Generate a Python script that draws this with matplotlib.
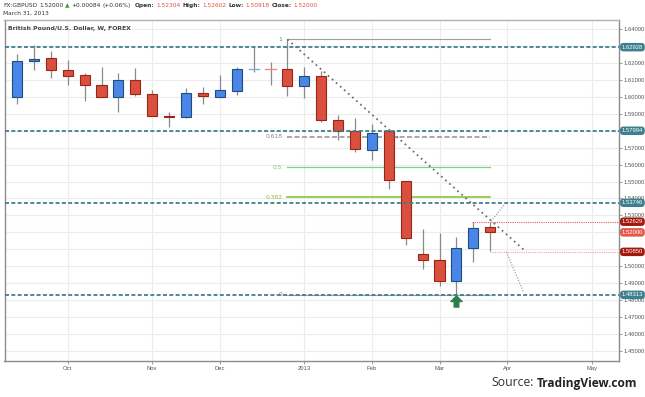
import matplotlib
matplotlib.use('Agg')
import matplotlib.pyplot as plt
from matplotlib.path import Path
from matplotlib.transforms import offset_copy, blended_transform_factory

# ---------------- data ----------------
opens = [1.6001, 1.6211, 1.6227, 1.6156, 1.6129, 1.6068, 1.6001, 1.6097, 1.6015, 1.5889,
         1.5879, 1.6021, 1.6001, 1.6036, 1.6161, 1.6163, 1.6162, 1.6064, 1.6121, 1.5861,
         1.5796, 1.5686, 1.5796, 1.5503, 1.5074, 1.5037, 1.4911, 1.5110, 1.52304]
highs = [1.6253, 1.6306, 1.6270, 1.6215, 1.6142, 1.6176, 1.6140, 1.6168, 1.6038, 1.5910,
         1.6050, 1.6058, 1.6129, 1.6176, 1.6300, 1.6204, 1.6339, 1.6176, 1.6152, 1.5891,
         1.5875, 1.5840, 1.5810, 1.5505, 1.5218, 1.5195, 1.5171, 1.5263, 1.52602]
lows = [1.5956, 1.6158, 1.6109, 1.6067, 1.5975, 1.5997, 1.5912, 1.6005, 1.5885, 1.5824,
        1.5877, 1.5959, 1.5998, 1.6012, 1.6148, 1.6067, 1.6005, 1.5993, 1.5853, 1.5745,
        1.5676, 1.5627, 1.5456, 1.5126, 1.4986, 1.4884, 1.4831, 1.5027, 1.50918]
closes = [1.6209, 1.6225, 1.6156, 1.6125, 1.6068, 1.6001, 1.6097, 1.6017, 1.5889, 1.5879,
          1.6021, 1.6005, 1.6038, 1.6162, 1.6163, 1.6161, 1.6064, 1.6121, 1.5861, 1.5798,
          1.5692, 1.5786, 1.5509, 1.5169, 1.5035, 1.4911, 1.5108, 1.5224, 1.52000]

month_pos = [3, 8, 12, 17, 21, 25, 29, 34]
month_labels = ['Oct', 'Nov', 'Dec', '2013', 'Feb', 'Mar', 'Apr', 'May']

price_grid = [1.45, 1.46, 1.47, 1.48, 1.49, 1.50, 1.51, 1.52, 1.53, 1.54, 1.55,
              1.56, 1.57, 1.58, 1.59, 1.60, 1.61, 1.62, 1.63, 1.64]
price_ticks = [1.45, 1.46, 1.47, 1.48, 1.49, 1.50, 1.53, 1.54, 1.55,
               1.56, 1.57, 1.59, 1.60, 1.61, 1.62, 1.64]

levels = [1.62928, 1.57994, 1.53746, 1.48313]

fib_high = 1.6339
fib_low = 1.48313
fib_ratios = [1, 0.618, 0.5, 0.382, 0]
fib_labels = ['1', '0.618', '0.5', '0.382', '0']
fib_span = [16, 28]

trend_x = [16, 30]
trend_y = [1.6339, 1.5096]
proj1_x = [28.05, 28.95]
proj1_y = [1.5265, 1.5377]
proj2_x = [28.95, 29.95]
proj2_y = [1.5085, 1.4852]

hi_line = 1.52629
hi_line_start = 27
lo_line = 1.50850
lo_line_start = 28
last_close = 1.52000
arrow_bar = 26

# ---------------- figure ----------------
W, H = 645, 397
fig = plt.figure(figsize=(W / 100, H / 100), dpi=100)
fig.patch.set_facecolor('white')
ax = fig.add_axes([4.5 / W, 1 - 361 / H, (619 - 4.5) / W, (361 - 19.5) / H])
ax.set_xlim(-0.74, 35.62)
ax.set_ylim(1.4441, 1.6456)

for s in ax.spines.values():
    s.set_color('#8c8c8c')
    s.set_linewidth(1.0)
ax.spines['top'].set_color('#b0b0b0')

# grid
for p in price_grid:
    ax.axhline(p, color='#ececec', lw=0.8, zorder=0)
for m in month_pos:
    ax.axvline(m, color='#ececec', lw=0.8, zorder=0)

# ticks
ax.yaxis.tick_right()
ax.set_yticks(price_ticks)
ax.set_yticklabels(['%.5f' % p for p in price_ticks])
ax.set_xticks(month_pos)
ax.set_xticklabels(month_labels)
ax.tick_params(axis='both', length=2, width=0.6, color='#8c8c8c',
               labelsize=4.2, labelcolor='#555555', pad=1.5)
for lab in ax.get_xticklabels() + ax.get_yticklabels():
    lab.set_family('Liberation Sans')

# candles
red, red_edge = '#d9503f', '#9a2418'
blue, blue_edge = '#4a86e8', '#1d4f7c'
for i, (o, h, l, c) in enumerate(zip(opens, highs, lows, closes)):
    ax.plot([i, i], [l, h], color='#8a8a8a', lw=0.9, zorder=2, solid_capstyle='butt')
    up = c >= o
    fc = blue if up else red
    ec = blue_edge if up else red_edge
    if abs(c - o) < 0.0006:
        ax.plot([i - 0.3, i + 0.3], [o, o], color='#7fa9ef' if up else '#ec8a7f', lw=1.0, zorder=3)
    else:
        ax.bar(i, abs(c - o), bottom=min(o, c), width=0.6, color=fc,
               edgecolor=ec, linewidth=0.8, zorder=3)

# teal levels
teal = '#3d7f8e'
ytrans = blended_transform_factory(ax.transAxes, ax.transData)
for lv in levels:
    ax.axhline(lv, color=teal, lw=1.3, linestyle=(0, (2.2, 1.3)), zorder=4)

# fib
fib_colors = ['#a0a0a0', '#9a9a9a', '#7ed47e', '#8cc43a', '#a0a0a0']
fib_text_colors = ['#777777', '#888888', '#6cc86c', '#8ab832', '#777777']
fib_styles = ['-', (0, (3, 1.5)), '-', '-', '-']
fib_widths = [0.8, 1.2, 0.9, 1.2, 0.8]
for r, lab, col, tcol, ls, lw in zip(fib_ratios, fib_labels, fib_colors, fib_text_colors, fib_styles, fib_widths):
    lv = fib_low + r * (fib_high - fib_low)
    ax.plot(fib_span, [lv, lv], color=col, lw=lw, linestyle=ls, zorder=2.5)
    ax.text(fib_span[0] - 0.3, lv, lab, ha='right', va='center', fontsize=4.3,
            color=tcol, family='DejaVu Sans', zorder=5)

# trend line & projections
ax.plot(trend_x, trend_y, color='#707070', lw=1.3, linestyle=(0, (1, 2)), zorder=5)
ax.plot(proj1_x, proj1_y, color='#909090', lw=0.8, linestyle=(0, (1, 1.5)), zorder=5)
ax.plot(proj2_x, proj2_y, color='#909090', lw=0.8, linestyle=(0, (1, 1.5)), zorder=5)

# red dotted lines
ax.plot([hi_line_start - 0.1, 40], [hi_line, hi_line], color='#e06060', lw=0.8,
        linestyle=(0, (1, 1)), zorder=4, clip_on=True)
ax.plot([lo_line_start, 40], [lo_line, lo_line], color='#f2a3a3', lw=0.8,
        linestyle=(0, (1, 1)), zorder=4, clip_on=True)

# green arrow
arrow = Path([(0, 1), (-1, 0), (-0.42, 0), (-0.42, -1), (0.42, -1), (0.42, 0), (1, 0), (0, 1)],
             [Path.MOVETO] + [Path.LINETO] * 6 + [Path.CLOSEPOLY])
tr = offset_copy(ax.transData, fig=fig, x=0, y=-6, units='dots')
ax.plot([arrow_bar], [lows[arrow_bar]], marker=arrow, markersize=8, color='#2e7d4f',
        transform=tr, zorder=6, clip_on=False)

# right price boxes
def price_box(val, bg):
    ax.text(1.0045, val, '%.5f' % val, transform=ytrans, ha='left', va='center',
            fontsize=4.2, color='white', family='Liberation Sans', zorder=10, clip_on=False,
            bbox=dict(boxstyle='round,pad=0.3,rounding_size=0.6', fc=bg, ec='none'))

for lv in levels:
    price_box(lv, teal)
price_box(hi_line, '#a3180c')
price_box(last_close, '#e3584a')
price_box(lo_line, '#a3180c')

# title inside
ax.text(0.006, 0.975, 'British Pound/U.S. Dollar, W, FOREX', transform=ax.transAxes,
        ha='left', va='center', fontsize=4.4, fontweight='bold', color='#444444',
        family='DejaVu Sans')

# header
renderer = fig.canvas.get_renderer()
def pieces(items, x0, y, size):
    x = x0
    for txt, col, w in items:
        if txt == ' ':
            x += size * 0.32 * 100 / 72
            continue
        t = fig.text(x / W, 1 - y / H, txt, fontsize=size, color=col, fontweight=w,
                     va='center', ha='left', family='DejaVu Sans')
        x += t.get_window_extent(renderer).width

dark = '#333333'
rc = '#e0533f'
hs = 4.2
pieces([('FX:GBPUSD', dark, 'normal'), (' ', None, None), ('1.52000', dark, 'normal'), (' ', None, None),
        ('\u25b2', '#3a9e3a', 'normal'), (' ', None, None), ('+0.00084', dark, 'normal'), (' ', None, None),
        ('(+0.06%)', dark, 'normal'), (' ', None, None), (' ', None, None),
        ('Open:', dark, 'bold'), (' ', None, None), ('1.52304', rc, 'normal'), (' ', None, None),
        ('High:', dark, 'bold'), (' ', None, None), ('1.52602', rc, 'normal'), (' ', None, None),
        ('Low:', dark, 'bold'), (' ', None, None), ('1.50918', rc, 'normal'), (' ', None, None),
        ('Close:', dark, 'bold'), (' ', None, None), ('1.52000', rc, 'normal')], 3, 5.5, hs)
fig.text(3 / W, 1 - 13.5 / H, 'March 31, 2013', fontsize=hs, color=dark, va='center',
         ha='left', family='DejaVu Sans')

# source
t2 = fig.text(637 / W, 1 - 383 / H, 'TradingView.com', fontsize=8.6, fontweight='bold',
              color='#222222', ha='right', va='center', family='Open Sans')
bb = t2.get_window_extent(renderer)
fig.text((bb.x0 - 2.5) / W, 1 - 383 / H, 'Source:', fontsize=8.8, color='#333333',
         ha='right', va='center', family='Open Sans')

fig.savefig('out.png', dpi=100, facecolor='white')
